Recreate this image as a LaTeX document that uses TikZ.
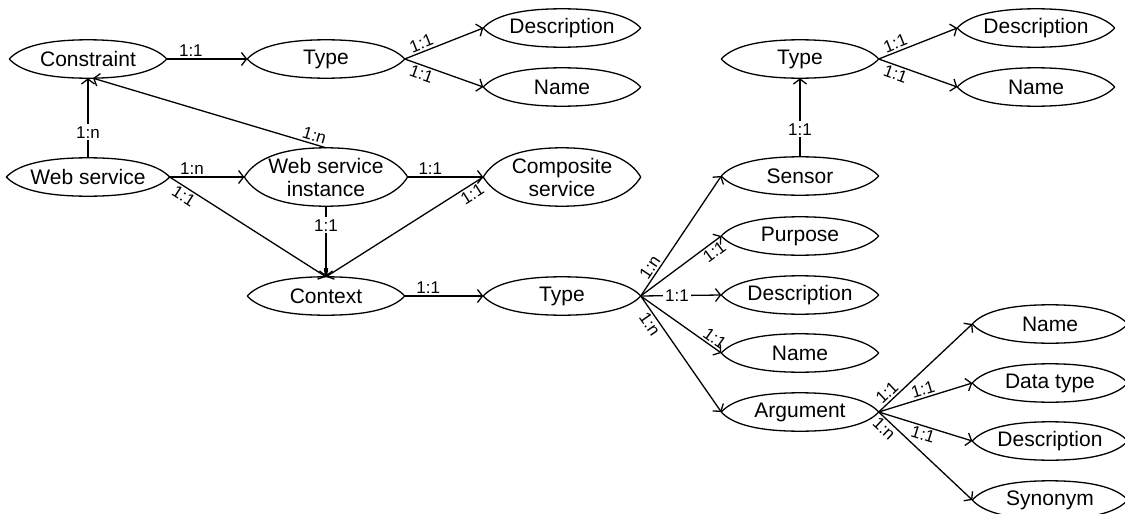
\documentclass[tikz,border=0pt]{standalone}
\usepackage{fontspec}
\setmainfont{Liberation Sans}
\usetikzlibrary{shapes.geometric,arrows.meta,calc}
\begin{document}
\begin{tikzpicture}[x=1pt,y=-1pt,
  ent/.style={ellipse, minimum width=157pt, minimum height=38pt,
    inner sep=0pt, align=center, font=\fontsize{21}{23}\selectfont},
  tall/.style={minimum height=58pt},
  narrow/.style={minimum width=155pt},
  outline/.style={line width=1.3pt, line join=round},
  rel/.style={line width=1.3pt, -{Straight Barb[length=5pt,width=13pt]}},
  relback/.style={line width=1.3pt, {Straight Barb[length=5pt,width=13pt]}-},
  lab/.style={font=\fontsize{17}{19}\selectfont, inner sep=2pt}]
\useasboundingbox (0,0) rectangle (1125,514);

% entities
\node[ent] (con)  at (88,59)   {Constraint};
\node[ent] (typA) at (326,59)  {Type};
\node[ent] (descA) at (562,28) {Description};
\node[ent] (nameA) at (562,87) {Name};
\node[ent] (ws)   at (88,177)  {Web service};
\node[ent,tall] (wsi)  at (326,177) {Web service\\instance};
\node[ent,tall] (comp) at (562,177) {Composite\\service};
\node[ent] (ctx)  at (326,296) {Context};
\node[ent] (typB) at (562,296) {Type};
\node[ent] (typC) at (800,59)  {Type};
\node[ent] (descC) at (1036,28) {Description};
\node[ent] (nameC) at (1036,87) {Name};
\node[ent] (sens) at (800,176) {Sensor};
\node[ent] (purp) at (800,236) {Purpose};
\node[ent] (descB) at (800,295) {Description};
\node[ent] (nameB) at (800,353) {Name};
\node[ent] (arg)  at (800,412) {Argument};
\node[ent,narrow] (nameD) at (1050,324) {Name};
\node[ent,narrow] (dtype) at (1050,383) {Data type};
\node[ent,narrow] (descD) at (1050,441) {Description};
\node[ent,narrow] (syn)   at (1050,500) {Synonym};

% outlines: broad ellipses with slightly pointed ends
\foreach \nd in {con,typA,descA,nameA,ws,wsi,comp,ctx,typB,typC,descC,nameC,
                sens,purp,descB,nameB,arg,nameD,dtype,descD,syn}{
  \draw[outline] let \p1=(\nd.center), \p2=(\nd.east), \p3=(\nd.north),
      \n1={\x2-\x1}, \n2={\y3-\y1} in
    ({\x1-\n1},{\y1})
    .. controls ({\x1-0.88*\n1},{\y1+0.55*\n2}) and ({\x1-0.6*\n1},{\y1+\n2}) .. ({\x1},{\y1+\n2})
    .. controls ({\x1+0.6*\n1},{\y1+\n2}) and ({\x1+0.88*\n1},{\y1+0.55*\n2}) .. ({\x1+\n1},{\y1})
    .. controls ({\x1+0.88*\n1},{\y1-0.55*\n2}) and ({\x1+0.6*\n1},{\y1-\n2}) .. ({\x1},{\y1-\n2})
    .. controls ({\x1-0.6*\n1},{\y1-\n2}) and ({\x1-0.88*\n1},{\y1-0.55*\n2}) .. cycle;
}

% relationships
\draw[rel] (con.east) -- node[lab,above,pos=0.3]{1:1} (typA.west);
\draw[rel] (typA.east) -- node[lab,sloped,above,pos=0.25]{1:1} (descA.west);
\draw[rel] (typA.east) -- node[lab,sloped,below,pos=0.25]{1:1} (nameA.west);
\draw[rel] (ws.north) -- node[lab,fill=white,pos=0.32]{1:n} (con.south);
\draw[rel] (wsi.north) -- node[lab,sloped,above,pos=0.06]{1:n} ([xshift=5pt]con.south);
\draw[rel] (ws.east) -- node[lab,above,pos=0.3]{1:n} (wsi.west);
\draw[rel] (ws.east) -- node[lab,sloped,below,pos=0.12]{1:1} (ctx.north);
\draw[rel] (wsi.east) -- node[lab,above,pos=0.3]{1:1} (comp.west);
\draw[rel] (wsi.south) -- node[lab,fill=white,pos=0.27]{1:1} (ctx.north);
\draw[relback] (ctx.north) -- node[lab,sloped,below,pos=0.9]{1:1} (comp.west);
\draw[rel] (ctx.east) -- node[lab,above,pos=0.3]{1:1} (typB.west);

\draw[rel] (typB.east) -- node[lab,sloped,above,pos=0.2]{1:n} (sens.west);
\draw[rel] (typB.east) -- node[lab,sloped,below,pos=0.85]{1:1} (purp.west);
\draw[rel] (typB.east) -- node[lab,fill=white,pos=0.45]{1:1} (descB.west);
\draw[rel] (typB.east) -- node[lab,sloped,above,pos=0.86]{1:1} (nameB.west);
\draw[rel] (typB.east) -- node[lab,sloped,below,pos=0.2]{1:n} (arg.west);

\draw[rel] (sens.north) -- node[lab,fill=white,pos=0.35]{1:1} (typC.south);
\draw[rel] (typC.east) -- node[lab,sloped,above,pos=0.25]{1:1} (descC.west);
\draw[rel] (typC.east) -- node[lab,sloped,below,pos=0.25]{1:1} (nameC.west);

\draw[rel] (arg.east) -- node[lab,sloped,above,pos=0.15]{1:1} (nameD.west);
\draw[rel] (arg.east) -- node[lab,sloped,above,pos=0.5]{1:1} (dtype.west);
\draw[rel] (arg.east) -- node[lab,sloped,below,pos=0.5]{1:1} (descD.west);
\draw[rel] (arg.east) -- node[lab,sloped,below,pos=0.12]{1:n} (syn.west);
\end{tikzpicture}
\end{document}
